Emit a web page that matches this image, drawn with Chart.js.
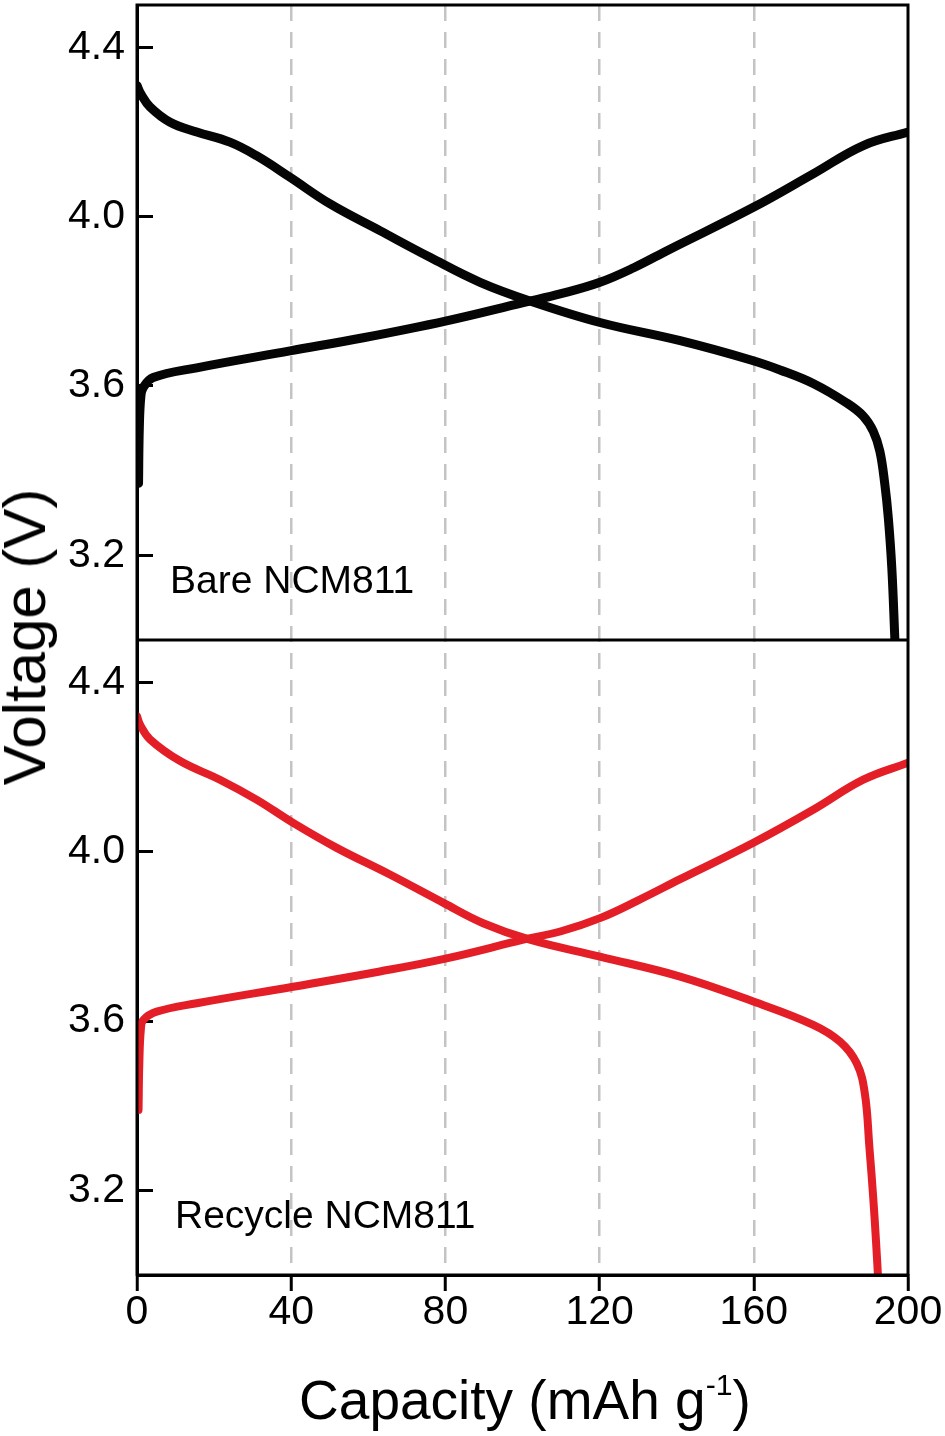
<!DOCTYPE html>
<html>
<head>
<meta charset="utf-8">
<script src="https://cdn.jsdelivr.net/npm/chart.js@4.4.1/dist/chart.umd.min.js"></script>
<style>
html,body{margin:0;padding:0;background:#fff;}
#wrap{position:relative;width:945px;height:1436px;overflow:hidden;font-family:"Liberation Sans",Arial,sans-serif;color:#000;}
#c{position:absolute;left:0;top:0;}
.lbl{position:absolute;white-space:nowrap;line-height:1;}
.lbl sup{font-size:0.55em;position:relative;top:-0.78em;vertical-align:baseline;line-height:0;}
</style>
</head>
<body>
<div id="wrap">
<canvas id="c" width="945" height="1436"></canvas>
<div class="lbl" id="ytitle" style="font-size:60px;left:25px;top:637px;transform:translate(-50%,-50%) rotate(-90deg);"></div>
<div class="lbl" id="xtitle" style="font-size:55px;left:525px;top:1373px;transform:translateX(-50%);"></div>
<div class="lbl" id="lblTop" style="font-size:39px;left:170px;top:560px;"></div>
<div class="lbl" id="lblBottom" style="font-size:39px;left:175px;top:1195px;"></div>
</div>
<script>
// ---- data ----
const panelLabels = ['Bare NCM811', 'Recycle NCM811'];
const yTitle = 'Voltage (V)';
const xTitleMain = 'Capacity (mAh g';
const xTitleSup = '-1';
const xTitleEnd = ')';

const xTicks = [0, 40, 80, 120, 160, 200];
const yTicks = [3.2, 3.6, 4.0, 4.4];
const xRange = [0, 200];
const yRange = [3.0, 4.5];

// Bare NCM811 (top panel, black)
const bareDischargeCap = [0, 1.0, 3.4, 8.6, 15.5, 24.1, 31.0, 39.7, 50.1, 63.0, 76.0, 89.0, 101.9, 120.1, 140.9, 159.0, 166.8, 175.4, 184.1, 188.4, 191.0, 192.7, 194.0, 194.9, 195.8, 196.6];
const bareDischargeV   = [4.31, 4.29, 4.259, 4.223, 4.200, 4.176, 4.144, 4.093, 4.030, 3.967, 3.904, 3.845, 3.801, 3.750, 3.707, 3.662, 3.638, 3.606, 3.560, 3.529, 3.493, 3.446, 3.367, 3.288, 3.170, 3.0];
const bareChargeCap = [0.4, 0.6, 1.0, 1.6, 4.2, 15.5, 39.7, 58.7, 80.3, 100.2, 110.0, 120.1, 129.0, 138.0, 159.9, 175.4, 188.4, 200];
const bareChargeV   = [3.37, 3.50, 3.575, 3.596, 3.620, 3.643, 3.683, 3.714, 3.754, 3.797, 3.818, 3.845, 3.880, 3.922, 4.022, 4.101, 4.168, 4.20];

// Recycle NCM811 (bottom panel, red)
const recDischargeCap = [0, 0.8, 3.4, 11.2, 21.5, 31.0, 40.5, 51.8, 65.6, 79.5, 89.8, 101.9, 120.1, 140.9, 159.9, 175.4, 182.4, 186.7, 188.8, 190.0, 191.0, 191.7, 192.2];
const recDischargeV   = [4.32, 4.30, 4.265, 4.214, 4.170, 4.123, 4.068, 4.009, 3.946, 3.879, 3.831, 3.792, 3.752, 3.705, 3.646, 3.591, 3.551, 3.500, 3.429, 3.30, 3.18, 3.08, 3.0];
const recChargeCap = [0.4, 0.6, 1.0, 1.6, 5.1, 15.5, 40.5, 63.0, 80.3, 100.2, 110.0, 120.1, 130.0, 140.9, 159.9, 175.4, 188.4, 200];
const recChargeV   = [3.39, 3.50, 3.58, 3.602, 3.622, 3.642, 3.681, 3.717, 3.748, 3.792, 3.812, 3.843, 3.885, 3.935, 4.021, 4.099, 4.170, 4.210];

// ---- text ----
document.getElementById('lblTop').textContent = panelLabels[0];
document.getElementById('lblBottom').textContent = panelLabels[1];
document.getElementById('ytitle').textContent = yTitle;
const xt = document.getElementById('xtitle');
xt.appendChild(document.createTextNode(xTitleMain));
const sup = document.createElement('sup'); sup.textContent = xTitleSup; xt.appendChild(sup);
xt.appendChild(document.createTextNode(xTitleEnd));

// ---- chart ----
const FONT = '"Liberation Sans", Arial, sans-serif';
const toPts = (xs, ys) => xs.map((x, i) => ({x: x, y: ys[i]}));

function yAxis(w) {
  return {
    type: 'linear', position: 'left', stack: 'v', stackWeight: 1, weight: w,
    min: yRange[0], max: yRange[1],
    afterBuildTicks: s => { s.ticks = yTicks.map(v => ({value: v})); },
    afterFit: s => { s.width = 137; s.paddingTop = 0; s.paddingBottom = 0; },
    grid: {drawOnChartArea: false, drawTicks: true, tickLength: -16, tickWidth: 3, tickColor: '#000', color: '#000', lineWidth: 3},
    border: {display: true, color: '#000', width: 3},
    ticks: {padding: 28, color: '#000', font: {family: FONT, size: 41}, callback: v => Number(v).toFixed(1)}
  };
}

const framePlugin = {
  id: 'frame',
  afterDraw(chart) {
    const a = chart.chartArea, c = chart.ctx;
    c.save();
    c.strokeStyle = '#000';
    c.lineWidth = 3;
    c.strokeRect(a.left, a.top, a.right - a.left, a.bottom - a.top);
    const yd = chart.scales.yTop.bottom;
    c.beginPath(); c.moveTo(a.left, yd); c.lineTo(a.right, yd); c.stroke();
    c.restore();
  }
};

const common = {pointRadius: 0, fill: false, tension: 0.4, borderCapStyle: 'round', borderJoinStyle: 'round'};
const BLACK = '#050505', RED = '#e41e26';

new Chart(document.getElementById('c'), {
  type: 'line',
  data: {
    datasets: [
      Object.assign({label: 'Bare discharge', data: toPts(bareDischargeCap, bareDischargeV), yAxisID: 'yTop', borderColor: BLACK, borderWidth: 9}, common),
      Object.assign({label: 'Bare charge', data: toPts(bareChargeCap, bareChargeV), yAxisID: 'yTop', borderColor: BLACK, borderWidth: 9}, common),
      Object.assign({label: 'Recycle discharge', data: toPts(recDischargeCap, recDischargeV), yAxisID: 'yBottom', borderColor: RED, borderWidth: 8}, common),
      Object.assign({label: 'Recycle charge', data: toPts(recChargeCap, recChargeV), yAxisID: 'yBottom', borderColor: RED, borderWidth: 8}, common)
    ]
  },
  options: {
    responsive: false, animation: false, devicePixelRatio: 1,
    layout: {padding: {left: 0, right: 37, top: 5, bottom: 0}},
    plugins: {legend: {display: false}, tooltip: {enabled: false}, title: {display: false}},
    scales: {
      x: {
        type: 'linear', position: 'bottom', min: xRange[0], max: xRange[1],
        afterBuildTicks: s => { s.ticks = xTicks.map(v => ({value: v})); },
        afterFit: s => { s.height = 161; s.paddingLeft = 0; s.paddingRight = 0; },
        grid: {
          drawOnChartArea: true, drawTicks: true, tickLength: 16, tickWidth: 3, tickColor: '#000', lineWidth: 2.5,
          color: ctx => (ctx.tick && (ctx.tick.value === xRange[0] || ctx.tick.value === xRange[1])) ? 'rgba(0,0,0,0)' : '#c4c4c4'
        },
        border: {display: true, color: '#000', width: 3, dash: [16, 11]},
        ticks: {padding: -3, color: '#000', font: {family: FONT, size: 41}, maxRotation: 0, autoSkip: false}
      },
      yBottom: yAxis(0),
      yTop: yAxis(1)
    }
  },
  plugins: [framePlugin]
});
</script>
</body>
</html>
